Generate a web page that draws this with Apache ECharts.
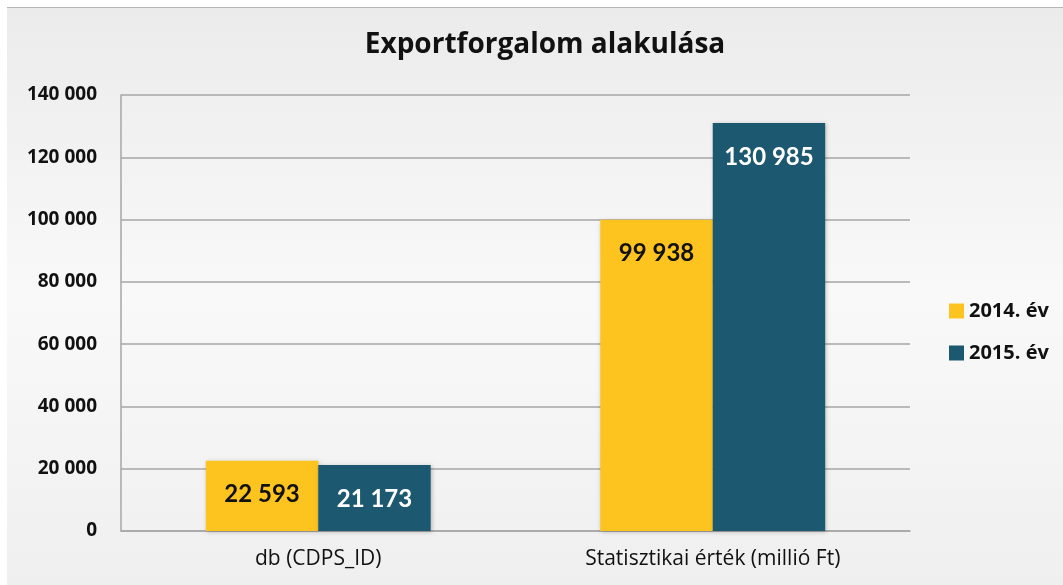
<!DOCTYPE html>
<html>
<head>
<meta charset="utf-8">
<script src="https://cdn.jsdelivr.net/npm/echarts@6/dist/echarts.min.js"></script>
<style>
  html, body { margin: 0; padding: 0; background: #fff; }
  #chart { width: 1063px; height: 585px; }
</style>
</head>
<body>
<div id="chart"></div>
<script>
const categories = ["db (CDPS_ID)", "Statisztikai érték (millió Ft)"];
const seriesNames = ["2014. év", "2015. év"];
const values2014 = [22593, 99938];
const values2015 = [21173, 130985];
const colors = ["#FDC41F", "#1D5871"];

const fmt = (v) => String(v).replace(/\B(?=(\d{3})+(?!\d))/g, " ");
const font = "'Open Sans', sans-serif";
const barFont = "Lato, 'Open Sans', sans-serif";

const chart = echarts.init(document.getElementById("chart"));

const makeSeries = (name, data, color, labelColor) => ({
  name: name,
  type: "bar",
  data: data,
  barGap: "0%",
  barCategoryGap: "43%",
  itemStyle: {
    color: color,
    shadowBlur: 4,
    shadowColor: "rgba(0,0,0,0.25)",
    shadowOffsetX: 1,
    shadowOffsetY: 1,
  },
  label: {
    show: true,
    position: "insideTop",
    distance: 22,
    formatter: (p) => fmt(p.value),
    color: labelColor,
    fontFamily: barFont,
    fontSize: 24,
    fontWeight: "bold",
  },
});

const option = {
  animation: false,
  graphic: [
    {
      type: "rect",
      z: -10,
      silent: true,
      shape: { x: 7, y: 7, width: 1056, height: 578 },
      style: {
        fill: new echarts.graphic.LinearGradient(0, 0, 0, 1, [
          { offset: 0, color: "#ebebeb" },
          { offset: 0.5, color: "#f9f9f9" },
          { offset: 1, color: "#efefef" },
        ]),
      },
    },
    {
      type: "line",
      z: -9,
      silent: true,
      shape: { x1: 7, y1: 7.5, x2: 1063, y2: 7.5 },
      style: { stroke: "#b5b5b5", lineWidth: 1 },
    },
  ],
  title: {
    text: "Exportforgalom alakulása",
    left: 540,
    top: 26,
    textAlign: "center",
    textStyle: {
      fontFamily: font,
      fontSize: 28,
      fontWeight: "bold",
      color: "#111",
    },
  },
  legend: {
    orient: "vertical",
    left: 944,
    top: 296,
    itemWidth: 15,
    itemHeight: 15,
    itemGap: 22,
    itemTextGap: 5,
    icon: "rect",
    textStyle: {
      fontFamily: font,
      fontSize: 20,
      fontWeight: "bold",
      color: "#111",
    },
    data: seriesNames,
  },
  grid: { left: 121, right: 153, top: 95, bottom: 54 },
  xAxis: {
    type: "category",
    data: categories,
    axisLine: { lineStyle: { color: "#a6a6a6", width: 1.5 } },
    axisTick: { show: false },
    axisLabel: {
      margin: 18,
      fontFamily: font,
      fontSize: 21,
      color: "#111",
    },
  },
  yAxis: {
    type: "value",
    min: 0,
    max: 140000,
    interval: 20000,
    axisLine: { show: true, lineStyle: { color: "#a6a6a6", width: 1.5 } },
    axisTick: { show: false },
    splitLine: { lineStyle: { color: "#a6a6a6", width: 1.5 } },
    axisLabel: {
      margin: 24,
      formatter: (v) => fmt(v),
      fontFamily: font,
      fontSize: 19,
      fontWeight: "bold",
      color: "#111",
    },
  },
  series: [
    makeSeries(seriesNames[0], values2014, colors[0], "#111"),
    makeSeries(seriesNames[1], values2015, colors[1], "#fff"),
  ],
};

chart.setOption(option);
</script>
</body>
</html>
